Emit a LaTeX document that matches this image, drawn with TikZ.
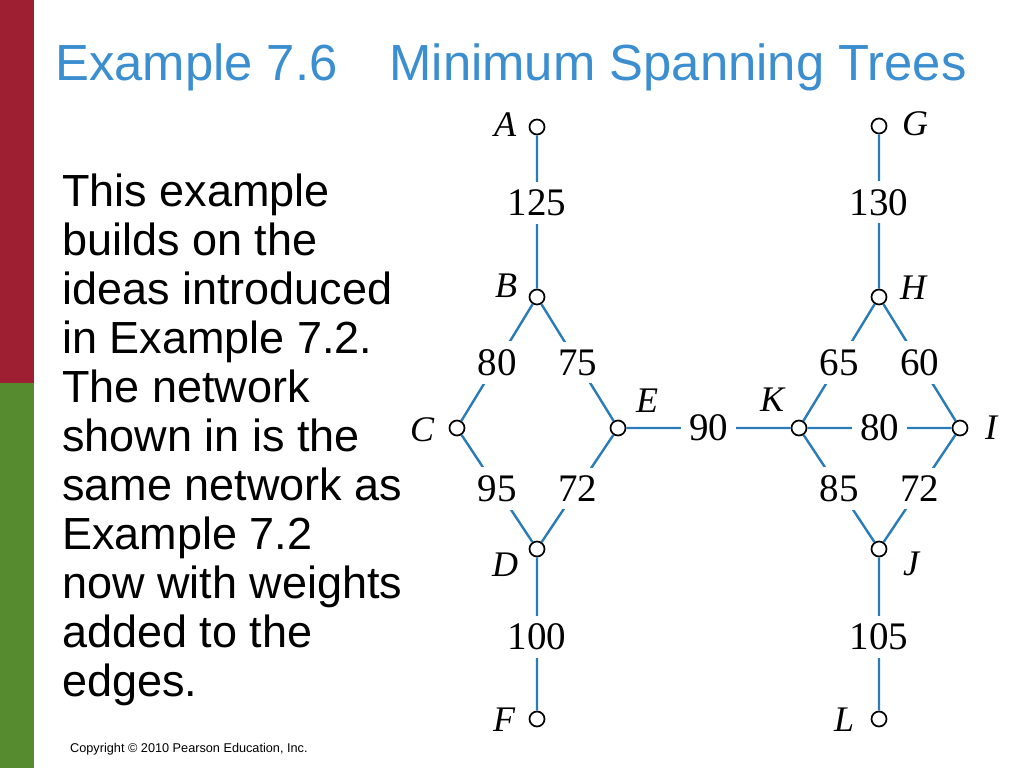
\documentclass[tikz,border=0pt]{standalone}
\usepackage{fontspec}
\setmainfont{Liberation Sans}
\newfontfamily\graphfont{Liberation Serif}
\usepackage{tikz}
\usetikzlibrary{positioning}
\definecolor{slidered}{RGB}{158,31,50}
\definecolor{slidegreen}{RGB}{86,139,47}
\definecolor{titleblue}{RGB}{59,142,208}
\definecolor{edgeblue}{RGB}{42,124,184}
\tikzset{
    vtx/.style={circle, draw=black, line width=1.7pt, fill=white, minimum size=15pt, inner sep=0pt},
    vname/.style={font=\graphfont\itshape\fontsize{36}{36}\selectfont, inner sep=0pt},
    wt/.style={font=\graphfont\fontsize{39}{39}\selectfont, fill=white, inner sep=8pt},
    wline/.style={draw=edgeblue, line width=2.4pt}
}

\begin{document}
\begin{tikzpicture}[x=1pt, y=-1pt]
                            \useasboundingbox (0,0) rectangle (1024,768);
                            \fill[slidered] (0,0) rectangle (34,383);
                            \fill[slidegreen] (0,383) rectangle (34,768);
                            \node[anchor=base west, inner sep=0pt, text=titleblue, font=\fontsize{50.8}{50.8}\selectfont] (title) at (55,80) {Example 7.6\hspace{52pt}Minimum Spanning Trees};
                            \node[anchor=base west, inner sep=0pt, align=left, font=\fontsize{45}{49}\selectfont] (body) at (62,696) {This example\\builds on the\\ideas introduced\\in Example 7.2.\\The network\\shown in is the\\same network as\\Example 7.2\\now with weights\\added to the\\edges.};
                            \node[anchor=base west, inner sep=0pt, font=\fontsize{12.7}{12.7}\selectfont] (copy) at (70,752) {Copyright \textcopyright{} 2010 Pearson Education, Inc.};
                            % vertices
                            \node[vtx] (a) at (537,127) {};
                            \node[vtx] (b) at (537,297) {};
                            \node[vtx] (c) at (457,428) {};
                            \node[vtx] (e) at (618,428) {};
                            \node[vtx] (d) at (537,549) {};
                            \node[vtx] (f) at (537,719) {};
                            \node[vtx] (g) at (879,126) {};
                            \node[vtx] (h) at (879,297) {};
                            \node[vtx] (k) at (799,428) {};
                            \node[vtx] (i) at (960,428) {};
                            \node[vtx] (j) at (879,549) {};
                            \node[vtx] (l) at (879,719) {};
                            % names
                            \node[vname] (na) at (505,125) {A};
                            \node[vname] (nb) at (506,286) {B};
                            \node[vname] (nc) at (422,430) {C};
                            \node[vname] (ne) at (647,401) {E};
                            \node[vname] (nd) at (505,565) {D};
                            \node[vname] (nf) at (504,720) {F};
                            \node[vname] (ng) at (915,124) {G};
                            \node[vname] (nh) at (913,288) {H};
                            \node[vname] (nk) at (772,400) {K};
                            \node[vname] (ni) at (991,428) {I};
                            \node[vname] (nj) at (911,564) {J};
                            \node[vname] (nl) at (844,720) {L};
                            % weighted edges
                            \draw[wline]
                            (a) -- node[wt, pos=0.44] {125} (b)
                            (b) -- node[wt] {80} (c)
                            (b) -- node[wt] {75} (e)
                            (c) -- node[wt] {95} (d)
                            (e) -- node[wt] {72} (d)
                            (d) -- node[wt, pos=0.52] {100} (f)
                            (e) -- node[wt] {90} (k)
                            (g) -- node[wt, pos=0.44] {130} (h)
                            (h) -- node[wt] {65} (k)
                            (h) -- node[wt] {60} (i)
                            (k) -- node[wt] {80} (i)
                            (k) -- node[wt] {85} (j)
                            (i) -- node[wt] {72} (j)
                            (j) -- node[wt, pos=0.52] {105} (l);
                        \end{tikzpicture}
\end{document}
